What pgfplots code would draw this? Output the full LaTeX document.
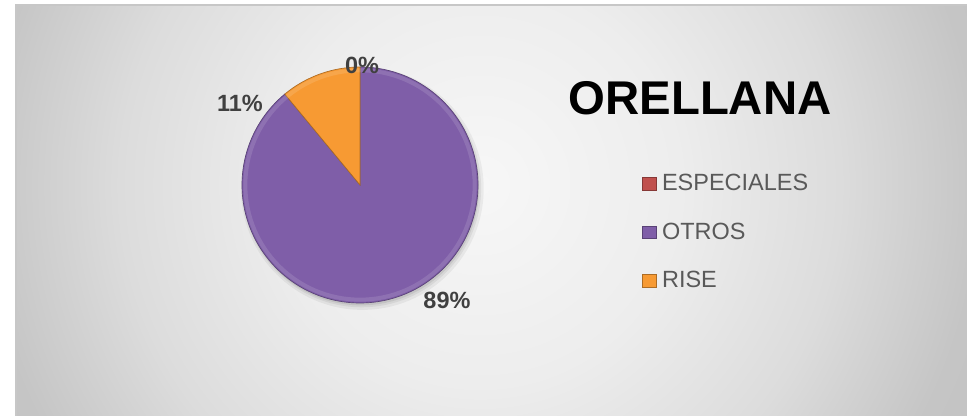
\documentclass[border=0pt]{standalone}
\usepackage{pgfplots}
\pgfplotsset{compat=1.18}
\usepackage{pgfplotstable}
\usepackage{fontspec}
\setmainfont{Liberation Sans}
\definecolor{cEsp}{HTML}{C0504D}
\definecolor{cOtr}{HTML}{7F5EA8}
\definecolor{cRis}{HTML}{F79A33}
\definecolor{lbl}{HTML}{404040}
\definecolor{leg}{HTML}{595959}
\definecolor{bg0}{RGB}{247,247,247}
\definecolor{bg1}{RGB}{237,237,237}
\definecolor{bg2}{RGB}{220,220,220}
\definecolor{bg3}{RGB}{197,197,197}
\definecolor{bg4}{RGB}{180,180,180}
\pgfdeclareradialshading{bgshade}{\pgfpoint{0bp}{0bp}}{%
  color(0bp)=(bg0);
  color(10bp)=(bg1);
  color(18bp)=(bg2);
  color(25bp)=(bg3);
  color(50bp)=(bg4)}
\begin{document}
\begin{tikzpicture}
\path[use as bounding box] (0pt,0pt) rectangle (725.25pt,312pt);
\fill[white] (0pt,0pt) rectangle (725.25pt,312pt);
\begin{scope}
\clip (12pt,0pt) rectangle (725.25pt,308.25pt);
\shade[shading=bgshade] (-15pt,-201.75pt) rectangle (735pt,548.25pt);
\end{scope}
\draw[white!78!black, line width=0.8pt] (12pt,0pt) -- (12pt,308.25pt) -- (725.25pt,308.25pt);
% title
\node[font=\bfseries\fontsize{35.5}{40}\selectfont, text=black] at (525pt,238.5pt) {ORELLANA};
\begin{axis}[
  at={(270pt,173.25pt)}, anchor=center,
  width=177pt, height=177pt, scale only axis,
  xmin=-1, xmax=1, ymin=-1, ymax=1,
  hide axis, clip=false,
  legend style={
    at={(1.695,0.30)}, anchor=west, draw=none, fill=none,
    font=\fontsize{17.6}{20}\selectfont, text=leg,
    inner sep=0pt, row sep=22.5pt,
    nodes={inner sep=0pt, anchor=west}},
  legend cell align=left,
]
% data (percent): ESPECIALES 0, OTROS 89, RISE 11
% soft shadow
\fill[black, opacity=0.05] (axis cs:0.02,-0.03) circle[radius=91pt];
\fill[black, opacity=0.06] (axis cs:0.015,-0.025) circle[radius=89.5pt];
\fill[black, opacity=0.08] (axis cs:0.01,-0.02) circle[radius=88.5pt];
% ESPECIALES 0% (empty slice)
\fill[cEsp] (axis cs:0,0) -- (axis cs:0,1) arc[start angle=90, end angle=90, radius=88.5pt] -- cycle;
% OTROS 89%
\fill[cOtr, draw=cOtr!70!black, line width=0.5pt] (axis cs:0,0) -- (axis cs:0,1) arc[start angle=90, end angle=90-3.6*89, radius=88.5pt] -- cycle;
% RISE 11%
\fill[cRis, draw=cRis!70!black, line width=0.5pt] (axis cs:0,0) -- (axis cs:0,1) arc[start angle=90, end angle=90+3.6*11, radius=88.5pt] -- cycle;
% inner highlight
\draw[white, opacity=0.12, line width=3pt] (axis cs:0,0) circle[radius=86pt];
% data labels
\node[font=\bfseries\fontsize{17.6}{20}\selectfont, text=lbl] at (axis cs:0.017,1.017) {0\%};
\node[font=\bfseries\fontsize{17.6}{20}\selectfont, text=lbl] at (axis cs:-1.017,0.695) {11\%};
\node[font=\bfseries\fontsize{17.6}{20}\selectfont, text=lbl] at (axis cs:0.737,-0.975) {89\%};
% legend
\addlegendimage{legend image code/.code={\fill[cEsp, draw=cEsp!70!black, line width=0.3pt] (0pt,-4.8pt) rectangle (10.5pt,4.8pt); \path (14.5pt,0pt);}}
\addlegendentry{ESPECIALES}
\addlegendimage{legend image code/.code={\fill[cOtr, draw=cOtr!70!black, line width=0.3pt] (0pt,-4.8pt) rectangle (10.5pt,4.8pt); \path (14.5pt,0pt);}}
\addlegendentry{OTROS}
\addlegendimage{legend image code/.code={\fill[cRis, draw=cRis!70!black, line width=0.3pt] (0pt,-4.8pt) rectangle (10.5pt,4.8pt); \path (14.5pt,0pt);}}
\addlegendentry{RISE}
\end{axis}
\end{tikzpicture}
\end{document}
